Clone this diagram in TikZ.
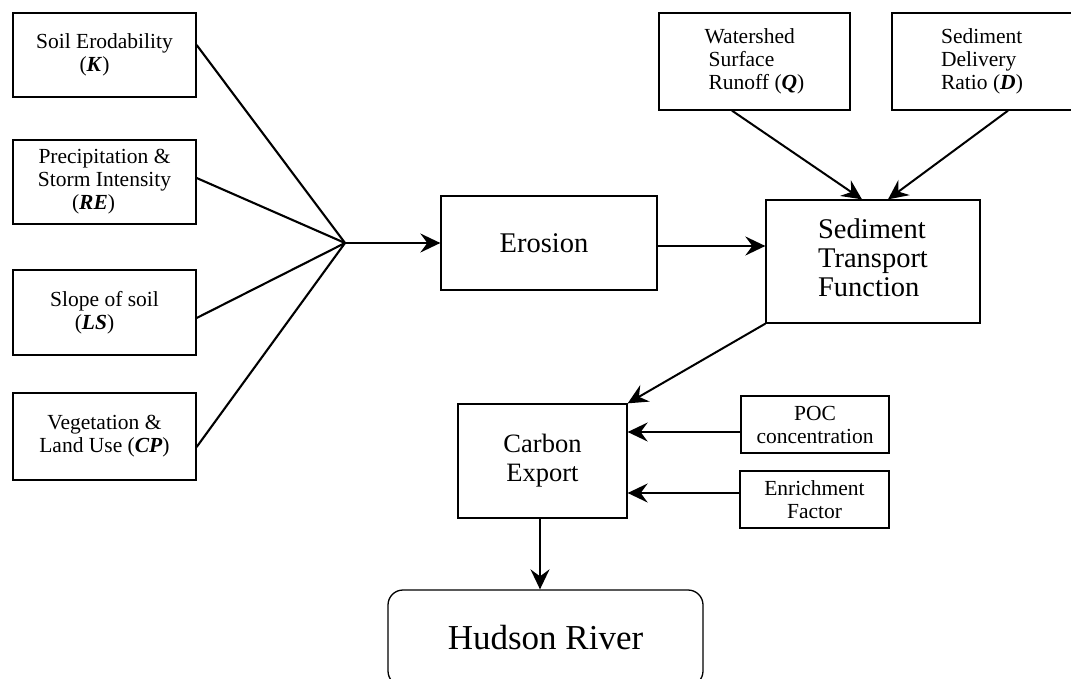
\documentclass[tikz,border=0pt]{standalone}
\usepackage{fontspec}
\setmainfont{Liberation Serif}
\usetikzlibrary{arrows.meta,calc}
\newcommand{\smallfs}{\fontsize{21.5}{23}\selectfont}
\newcommand{\largefs}{\fontsize{28.5}{29}\selectfont}
\newcommand{\midfs}{\fontsize{26.5}{29}\selectfont}
\newcommand{\hugefs}{\fontsize{35}{40}\selectfont}
\newcommand{\var}[1]{\textbf{\textit{#1}}}
\tikzset{
  box/.style={draw=black, line width=1.3pt, rectangle, inner sep=0pt, align=center},
  smallbox/.style={box, font=\smallfs},
  bigbox/.style={box, font=\largefs},
  arr/.style={line width=2pt, -{Stealth[length=20pt,width=19pt,inset=7pt]}},
  ln/.style={line width=2.1pt},
}
\begin{document}
\begin{tikzpicture}[x=1pt,y=-1pt]
\useasboundingbox (0,0) rectangle (1071,679);
% left inputs
\node[smallbox, minimum width=183pt, minimum height=84pt] (k) at (104.5,55) {Soil Erodability\\\hspace*{-20pt}(\var{K})};
\node[smallbox, minimum width=183pt, minimum height=84pt] (re) at (104.5,182) {Precipitation \&\\Storm Intensity\\\hspace*{-22pt}(\var{RE})};
\node[smallbox, minimum width=183pt, minimum height=85pt] (ls) at (104.5,312.5) {Slope of soil\\\hspace*{-20pt}(\var{LS})};
\node[smallbox, minimum width=183pt, minimum height=87pt] (cp) at (104.5,436.5) {Vegetation \&\\Land Use (\var{CP})};
\coordinate (hub) at (345,243);
% main chain
\node[bigbox, minimum width=216pt, minimum height=94pt] (ero) at (549,243) {\hspace*{-10pt}Erosion};
\node[bigbox, minimum width=214pt, minimum height=123pt] (stf) at (873,261.5) {\begin{tabular}{@{}l@{}}Sediment\\Transport\\Function\end{tabular}};
\node[smallbox, minimum width=191pt, minimum height=97pt] (ws) at (754.5,61.5) {\begin{tabular}{@{}l@{}}Watershed\\\hspace*{4pt}Surface\\\hspace*{4pt}Runoff (\var{Q})\end{tabular}};
\node[smallbox, minimum width=180pt, minimum height=97pt] (sdr) at (982,61.5) {\begin{tabular}{@{}l@{}}Sediment\\Delivery\\Ratio (\var{D})\end{tabular}};
\node[box, font=\midfs, minimum width=169pt, minimum height=114pt] (ce) at (542.5,461) {Carbon\\Export};
\node[smallbox, minimum width=148pt, minimum height=57pt] (poc) at (815,424.5) {POC\\concentration};
\node[smallbox, minimum width=149pt, minimum height=57pt] (ef) at (814.5,499.5) {Enrichment\\Factor};
\node[box, font=\hugefs, rounded corners=15pt, minimum width=315pt, minimum height=96pt] (hr) at (545.5,638) {Hudson River};
% connectors
\draw[ln] ([yshift=10pt]k.east) -- (hub);
\draw[ln] ([yshift=4pt]re.east) -- (hub);
\draw[ln] ([yshift=-5.5pt]ls.east) -- (hub);
\draw[ln] ([yshift=-10.5pt]cp.east) -- (hub);
\draw[arr] (hub) -- (ero.west);
\draw[arr] ([yshift=-3pt]ero.east) -- ([yshift=-3pt]ero.east -| stf.west);
\draw[arr] ([xshift=-22.5pt]ws.south) -- ([xshift=-11pt]stf.north);
\draw[arr] ([xshift=26pt]sdr.south) -- ([xshift=15pt]stf.north);
\draw[arr] (stf.south west) -- (ce.north east);
\draw[arr] ([yshift=-7.5pt]poc.west) -- ([yshift=-7.5pt]poc.west -| ce.east);
\draw[arr] ([yshift=6.5pt]ef.west) -- ([yshift=6.5pt]ef.west -| ce.east);
\draw[arr] ([xshift=-2.5pt]ce.south) -- ([xshift=-2.5pt]ce.south |- hr.north);
\end{tikzpicture}
\end{document}
